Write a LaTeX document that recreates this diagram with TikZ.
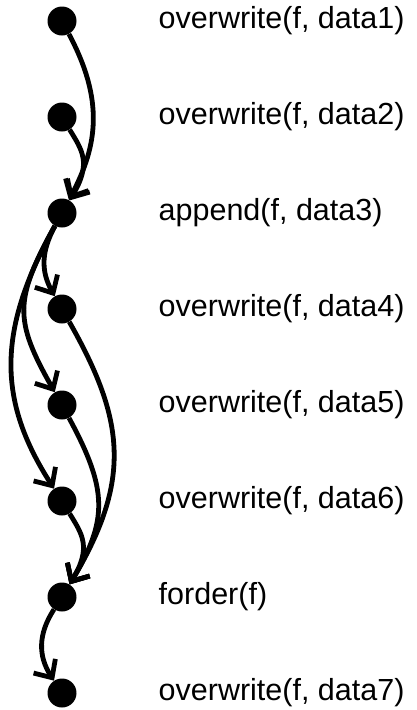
\documentclass[tikz,border=0pt]{standalone}
\usepackage{fontspec}
\setmainfont{Liberation Sans}
\usetikzlibrary{arrows.meta}
\begin{document}
\begin{tikzpicture}[x=1pt,y=-1pt,
  dot/.style={circle,fill=black,inner sep=0pt,minimum size=29pt},
  lbl/.style={anchor=base west,inner sep=0pt,font=\fontsize{30.5pt}{36pt}\selectfont},
  link/.style={line width=4.8pt,-{Straight Barb[length=14pt,width=26pt]}}]
\useasboundingbox (0,0) rectangle (416,710);
\foreach \i/\y in {1/21,2/117,3/213,4/309,5/405,6/501,7/597,8/693}{
  \node[dot] (n\i) at (62,\y) {};
}
\node[lbl] (t1) at (158.5,28) {overwrite(f, data1)};
\node[lbl] (t2) at (158.5,124) {overwrite(f, data2)};
\node[lbl] (t3) at (158.5,220) {append(f, data3)};
\node[lbl] (t4) at (158.5,316) {overwrite(f, data4)};
\node[lbl] (t5) at (158.5,412) {overwrite(f, data5)};
\node[lbl] (t6) at (158.5,508) {overwrite(f, data6)};
\node[lbl] (t7) at (158.5,604) {forder(f)};
\node[lbl] (t8) at (158.5,700) {overwrite(f, data7)};
\draw[link] (n1) .. controls (104,100) and (98,145) .. (n3);
\draw[link] (n2) .. controls (82,150) and (92,163) .. (n3);
\draw[link] (n3) .. controls (42,250) and (40,270) .. (n4);
\draw[link] (n3) .. controls (14,300) and (14,320) .. (n5);
\draw[link] (n3) .. controls (-3,330) and (-3,400) .. (n6);
\draw[link] (n4) .. controls (125,420) and (132,480) .. (n7);
\draw[link] (n5) .. controls (108,490) and (108,520) .. (n7);
\draw[link] (n6) .. controls (82,534) and (92,547) .. (n7);
\draw[link] (n7) .. controls (38,634) and (38,656) .. (n8);
\end{tikzpicture}
\end{document}
